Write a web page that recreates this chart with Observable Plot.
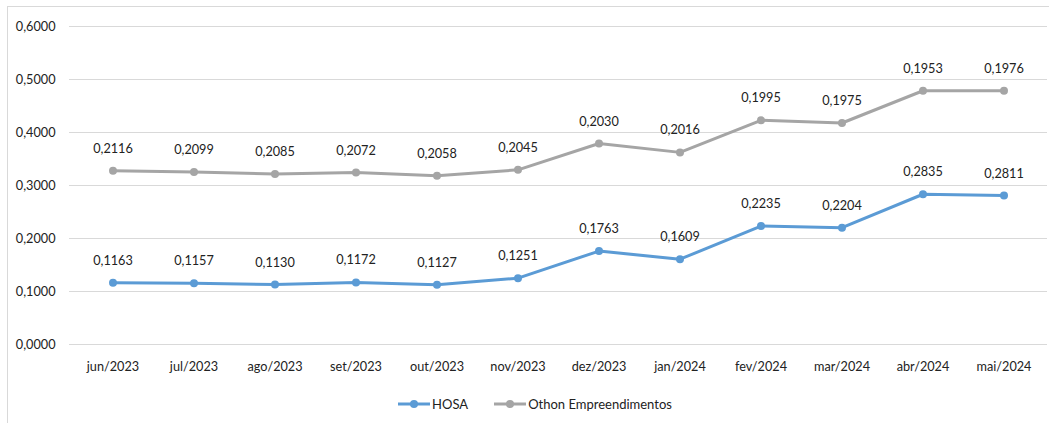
<!DOCTYPE html>
<html><head><meta charset="utf-8">
<script src="https://cdn.jsdelivr.net/npm/d3@7"></script>
<script src="https://cdn.jsdelivr.net/npm/@observablehq/plot@0.6"></script>
<style>
body{margin:0;background:#fff;font-family:Lato,"Open Sans",sans-serif;}
#frame{position:absolute;left:7px;top:6px;width:1100px;height:500px;border:1px solid #d9d9d9;box-sizing:border-box;}
#chart{position:absolute;left:0;top:0;}
#legend{position:absolute;left:0;top:396px;width:1049px;display:flex;justify-content:center;gap:26px;font-size:13px;color:#222;padding-left:21px;box-sizing:border-box;}
#legend span{display:flex;align-items:center;gap:2px;}
</style></head>
<body>
<div id="frame"></div>
<div id="chart"></div>
<div id="legend"></div>
<script>
const months = ["jun/2023","jul/2023","ago/2023","set/2023","out/2023","nov/2023","dez/2023","jan/2024","fev/2024","mar/2024","abr/2024","mai/2024"];
const hosa  = [0.1163,0.1157,0.1130,0.1172,0.1127,0.1251,0.1763,0.1609,0.2235,0.2204,0.2835,0.2811];
const othon = [0.2116,0.2099,0.2085,0.2072,0.2058,0.2045,0.2030,0.2016,0.1995,0.1975,0.1953,0.1976];
const yTicks = [0,0.1,0.2,0.3,0.4,0.5,0.6];
const seriesNames = ["HOSA","Othon Empreendimentos"];
const colors = ["#5B9BD5","#A5A5A5"];

const fmt = v => d3.format(".4f")(v).replace(".", ",");
const rows = [];
months.forEach((m,i)=>{
  rows.push({month:m, series:seriesNames[0], value:hosa[i], y:hosa[i]});
  rows.push({month:m, series:seriesNames[1], value:othon[i], y:hosa[i]+othon[i]});
});

const plot = Plot.plot({
  width:1049, height:385,
  marginLeft:69, marginRight:2, marginTop:26, marginBottom:41,
  style:{fontFamily:"Lato, 'Open Sans', sans-serif", fontSize:"12.7px", color:"#222", background:"transparent"},
  x:{type:"band", domain:months, label:null, tickSize:0, tickPadding:17, padding:0},
  y:{domain:[0,0.6], ticks:yTicks, tickFormat:fmt, label:null, tickSize:0, tickPadding:14},
  color:{domain:seriesNames, range:colors},
  marks:[
    Plot.ruleY(yTicks,{stroke:"#d9d9d9", strokeWidth:1}),
    Plot.line(rows,{x:"month", y:"y", z:"series", stroke:"series", strokeWidth:3, curve:"linear"}),
    Plot.dot(rows,{x:"month", y:"y", fill:"series", r:4}),
    Plot.text(rows,{x:"month", y:"y", text:d=>fmt(d.value), dy:-22, fill:"#222", fontSize:12.7})
  ]
});
document.getElementById("chart").appendChild(plot);

const leg = document.getElementById("legend");
seriesNames.forEach((s,i)=>{
  const sp = document.createElement("span");
  sp.innerHTML = `<svg width="32" height="12"><line x1="0" x2="32" y1="6" y2="6" stroke="${colors[i]}" stroke-width="3"/><circle cx="16" cy="6" r="4" fill="${colors[i]}"/></svg>${s}`;
  leg.appendChild(sp);
});
</script>
</body></html>
